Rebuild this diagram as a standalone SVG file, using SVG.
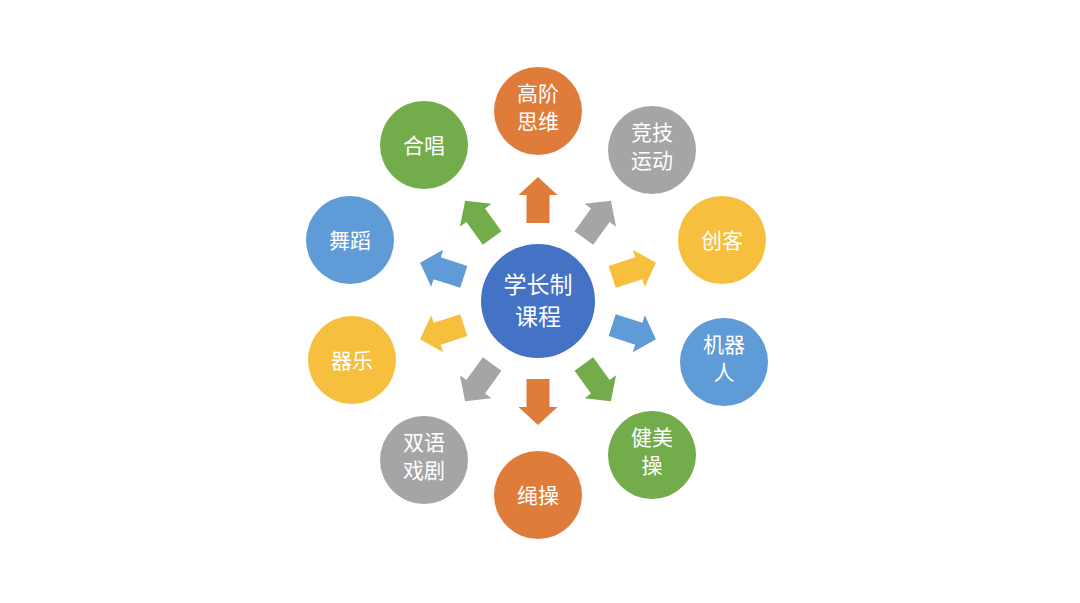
<svg xmlns="http://www.w3.org/2000/svg" width="1080" height="603" viewBox="0 0 1080 603">
<style>
text{font-family:"Noto Sans CJK SC",sans-serif;font-size:21px;fill:#fff;text-anchor:middle}
.ct{font-size:23px}
.o{fill:#E07C3A}.g{fill:#A5A5A5}.y{fill:#F6BF3E}.b{fill:#5F9BD6}.n{fill:#72AC4B}.c{fill:#4472C4}
</style>
<defs><path id="ar" d="M526.5,223 V195 H518.5 L538,177 L557.5,195 H549.5 V223 Z"/></defs>
<rect width="1080" height="603" fill="#fff"/>
<g id="connectors">
<use href="#ar" class="o"/>
<use href="#ar" class="g" transform="rotate(36 538 301)"/>
<use href="#ar" class="y" transform="rotate(72 538 301)"/>
<use href="#ar" class="b" transform="rotate(108 538 301)"/>
<use href="#ar" class="n" transform="rotate(144 538 301)"/>
<use href="#ar" class="o" transform="rotate(180 538 301)"/>
<use href="#ar" class="g" transform="rotate(216 538 301)"/>
<use href="#ar" class="y" transform="rotate(252 538 301)"/>
<use href="#ar" class="b" transform="rotate(288 538 301)"/>
<use href="#ar" class="n" transform="rotate(324 538 301)"/>
</g>
<g id="center"><circle class="c" cx="538" cy="301" r="57"/><text class="ct" x="538" y="293">学长制</text><text class="ct" x="538" y="325">课程</text></g>
<g id="n1"><circle class="o" cx="538" cy="111" r="44"/><text x="538" y="101">高阶</text><text x="538" y="129">思维</text></g>
<g id="n2"><circle class="g" cx="652" cy="150" r="44"/><text x="652" y="140">竞技</text><text x="652" y="168">运动</text></g>
<g id="n3"><circle class="y" cx="722" cy="240" r="44"/><text x="722" y="248">创客</text></g>
<g id="n4"><circle class="b" cx="724" cy="362" r="44"/><text x="724" y="352">机器</text><text x="724" y="380">人</text></g>
<g id="n5"><circle class="n" cx="652" cy="455" r="44"/><text x="652" y="445">健美</text><text x="652" y="473">操</text></g>
<g id="n6"><circle class="o" cx="538" cy="495" r="44"/><text x="538" y="503">绳操</text></g>
<g id="n7"><circle class="g" cx="424" cy="460" r="44"/><text x="424" y="450">双语</text><text x="424" y="478">戏剧</text></g>
<g id="n8"><circle class="y" cx="352" cy="360" r="44"/><text x="352" y="368">器乐</text></g>
<g id="n9"><circle class="b" cx="350" cy="240" r="44"/><text x="350" y="248">舞蹈</text></g>
<g id="n10"><circle class="n" cx="424" cy="145" r="44"/><text x="424" y="153">合唱</text></g>
</svg>
